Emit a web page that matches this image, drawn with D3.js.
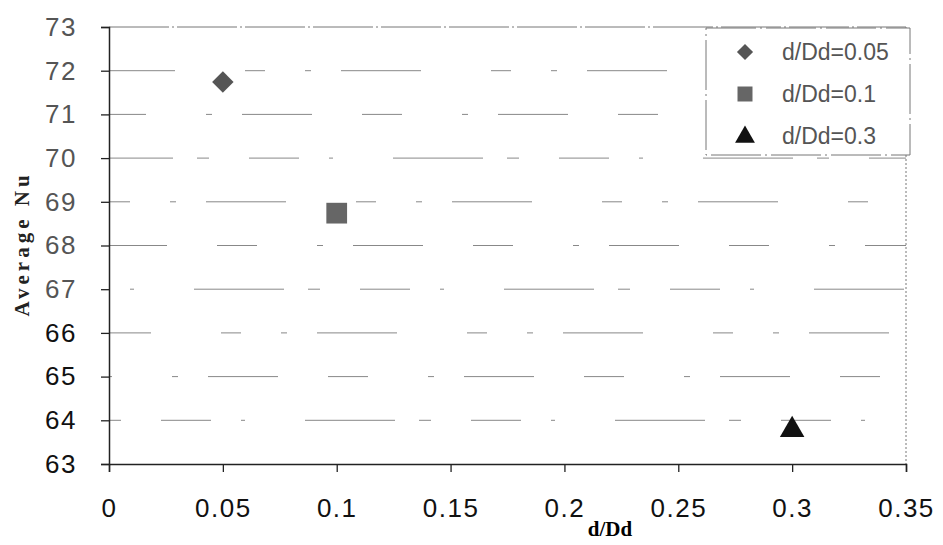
<!DOCTYPE html>
<html>
<head>
<meta charset="utf-8">
<script src="https://cdn.jsdelivr.net/npm/d3@7"></script>
<style>
  body { margin: 0; background: #fff; }
  svg { display: block; }
</style>
</head>
<body>
<div id="chart"></div>
<script>
// values
const seriesNames = ['d/Dd=0.05', 'd/Dd=0.1', 'd/Dd=0.3'];
const xValues = [0.05, 0.1, 0.3];
const yValues = [71.74, 68.74, 63.78];
const markerTypes = ['diamond', 'square', 'triangle'];
const markerColors = ['#555', '#666', '#111'];
const xTicks = [0, 0.05, 0.1, 0.15, 0.2, 0.25, 0.3, 0.35];
const yTicks = [63, 64, 65, 66, 67, 68, 69, 70, 71, 72, 73];

const width = 943, height = 545;
const margin = { top: 27, right: 37, bottom: 81, left: 109 };

const svg = d3.select('#chart').append('svg')
    .attr('width', width)
    .attr('height', height);

const x = d3.scaleLinear().domain([0, 0.35]).range([margin.left, width - margin.right]);
const y = d3.scaleLinear().domain([63, 73]).range([height - margin.bottom, margin.top]);

// broken-looking grid lines, like the scan
const dashes = ['12,40,50,30,4,60,90,24', '40,60,6,30,70,50', '6,30,80,70,20,40'];
svg.append('g')
    .selectAll('line')
    .data(yTicks.slice(1, -1))
    .join('line')
    .attr('x1', x(0)).attr('x2', x(0.35))
    .attr('y1', d => y(d)).attr('y2', d => y(d))
    .attr('stroke', '#888')
    .attr('stroke-width', 1)
    .attr('stroke-dasharray', (d, i) => dashes[i % 3])
    .attr('stroke-dashoffset', (d, i) => i * 37);

// frame top / right
svg.append('line')
    .attr('x1', x(0)).attr('x2', x(0.35)).attr('y1', y(73)).attr('y2', y(73))
    .attr('stroke', '#777').attr('stroke-dasharray', '60,3,2,3');
svg.append('line')
    .attr('x1', x(0.35)).attr('x2', x(0.35)).attr('y1', y(73)).attr('y2', y(63))
    .attr('stroke', '#777').attr('stroke-dasharray', '2,2');

const xAxis = svg.append('g')
    .attr('transform', `translate(0,${y(63)})`)
    .call(d3.axisBottom(x).tickValues(xTicks).tickFormat(d3.format('')).tickSize(8).tickPadding(27));
const yAxis = svg.append('g')
    .attr('transform', `translate(${x(0)},0)`)
    .call(d3.axisLeft(y).tickValues(yTicks).tickSize(8).tickPadding(24));

[xAxis, yAxis].forEach(g => {
  g.selectAll('.domain').attr('stroke', '#222').attr('stroke-width', 1.5);
  g.selectAll('.tick line').attr('stroke', '#222').attr('stroke-width', 1.3);
  g.selectAll('text')
    .attr('font-family', 'Arial, "Liberation Sans", sans-serif')
    .attr('font-size', 26)
    .attr('letter-spacing', 1.5)
    .attr('fill', d => (d > 66.5 && d < 100) ? '#555' : '#111');
});
xAxis.selectAll('.tick text').attr('dy', '0.71em');

// axis titles
svg.append('text')
    .attr('x', 610).attr('y', 536)
    .attr('text-anchor', 'middle')
    .attr('font-family', '"Liberation Serif", "Times New Roman", serif')
    .attr('font-weight', 'bold')
    .attr('font-size', 21)
    .text('d/Dd');
svg.append('text')
    .attr('transform', `translate(29,244) rotate(-90)`)
    .attr('text-anchor', 'middle')
    .attr('font-family', '"Liberation Serif", "Times New Roman", serif')
    .attr('font-weight', 'bold')
    .attr('font-size', 21)
    .attr('letter-spacing', 4)
    .attr('fill', '#222')
    .text('Average Nu');

const symbolFor = t => t === 'triangle' ? d3.symbolTriangle : d3.symbolSquare;
const rotFor = t => t === 'diamond' ? 45 : 0;
const sizeFor = t => t === 'diamond' ? 230 : t === 'square' ? 430 : 260;

// data points
svg.append('g')
    .selectAll('path')
    .data(xValues.map((v, i) => ({ x: v, y: yValues[i], t: markerTypes[i], c: markerColors[i] })))
    .join('path')
    .attr('transform', d => `translate(${x(d.x)},${y(d.y)}) rotate(${rotFor(d.t)})`)
    .attr('d', d => d3.symbol(symbolFor(d.t), sizeFor(d.t))())
    .attr('fill', d => d.c);

// legend
const legend = svg.append('g').attr('transform', 'translate(706,28)');
legend.append('rect')
    .attr('width', 204).attr('height', 127)
    .attr('fill', '#fff')
    .attr('stroke', '#777')
    .attr('stroke-dasharray', '50,4,2,4');
const legendSize = [130, 225, 170];
seriesNames.forEach((name, i) => {
  const row = legend.append('g').attr('transform', `translate(0,${24 + i * 42})`);
  row.append('path')
      .attr('transform', `translate(39,${i === 2 ? 1 : 0}) rotate(${rotFor(markerTypes[i])})`)
      .attr('d', d3.symbol(symbolFor(markerTypes[i]), legendSize[i])())
      .attr('fill', markerColors[i]);
  row.append('text')
      .attr('x', 76).attr('y', 0).attr('dy', '0.35em')
      .attr('font-family', 'Arial, "Liberation Sans", sans-serif')
      .attr('font-size', 23)
      .attr('fill', '#555')
      .text(name);
});
</script>
</body>
</html>
